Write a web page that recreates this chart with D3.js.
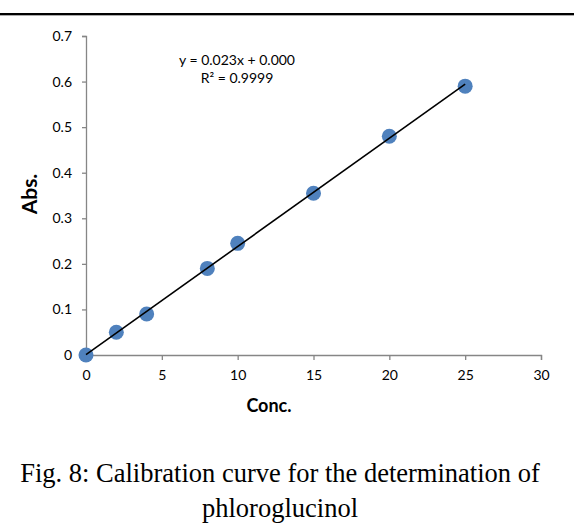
<!DOCTYPE html>
<html><head><meta charset="utf-8">
<script src="https://cdn.jsdelivr.net/npm/d3@7"></script>
<style>body{margin:0;background:#fff}svg{display:block}</style>
</head><body>
<script>
const concValues = [0, 2, 4, 8, 10, 15, 20, 25];
const absValues = [0, 0.05, 0.09, 0.19, 0.245, 0.355, 0.48, 0.59];
const xTicks = [0, 5, 10, 15, 20, 25, 30];
const yTicks = [0, 0.1, 0.2, 0.3, 0.4, 0.5, 0.6, 0.7];
const equationLines = ["y = 0.023x + 0.000", "R² = 0.9999"];
const captionLines = ["Fig. 8: Calibration curve for the determination of", "phloroglucinol"];

const W = 574, H = 531;
const svg = d3.select("body").append("svg").attr("width", W).attr("height", H);

// top rule
svg.append("rect").attr("x",0).attr("y",13).attr("width",W).attr("height",2).attr("fill","#000");
svg.append("rect").attr("x",0).attr("y",15).attr("width",W).attr("height",1).attr("fill","#aaa");

const x = d3.scaleLinear().domain([0,30]).range([86,541]);
const y = d3.scaleLinear().domain([0,0.7]).range([355,36]);
const axisColor = "#868686";
const tickFont = "Lato, 'Open Sans', sans-serif";

const gx = svg.append("g").attr("transform","translate(0,355)")
  .call(d3.axisBottom(x).tickValues(xTicks).tickFormat(d3.format("d")).tickSizeInner(5).tickSizeOuter(5).tickPadding(10));
const gy = svg.append("g").attr("transform","translate(86,0)")
  .call(d3.axisLeft(y).tickValues(yTicks).tickFormat(d => d===0 ? "0" : d3.format(".1f")(d)).tickSizeInner(4).tickSizeOuter(4).tickPadding(10));
[gx, gy].forEach(g => {
  g.selectAll("path,line").attr("stroke", axisColor).attr("stroke-width", 1.3);
  g.selectAll("text").attr("fill","#000").style("font-family", tickFont).style("font-size","14px");
});

// regression
const mx = d3.mean(concValues), my = d3.mean(absValues);
const sxy = d3.sum(concValues.map((v,i)=>(v-mx)*(absValues[i]-my)));
const sxx = d3.sum(concValues.map(v=>(v-mx)*(v-mx)));
const slope = sxy/sxx, intercept = my - slope*mx;

const pts = concValues.map((c,i)=>({c, a:absValues[i]}));
svg.append("g").selectAll("circle").data(pts).join("circle")
  .attr("cx", d=>x(d.c)).attr("cy", d=>y(d.a)).attr("r", 7.5).attr("fill","#4F81BD");

const x0 = d3.min(concValues), x1 = d3.max(concValues);
svg.append("line")
  .attr("x1", x(x0)).attr("y1", y(slope*x0+intercept))
  .attr("x2", x(x1)).attr("y2", y(slope*x1+intercept))
  .attr("stroke","#000").attr("stroke-width",1.6);

svg.append("g").selectAll("text").data(equationLines).join("text")
  .attr("x", 237).attr("y", (d,i)=>65 + i*18).attr("text-anchor","middle")
  .style("font-family", tickFont).style("font-size","14px").text(d=>d);

svg.append("text").attr("x", 269).attr("y", 412).attr("text-anchor","middle")
  .style("font-family", tickFont).style("font-weight","bold").style("font-size","18px").text("Conc.");
svg.append("text").attr("transform","translate(37,194) rotate(-90)").attr("text-anchor","middle")
  .style("font-family", tickFont).style("font-weight","bold").style("font-size","21px").text("Abs.");

svg.append("g").selectAll("text").data(captionLines).join("text")
  .attr("x", 280).attr("y", (d,i)=>482 + i*35).attr("text-anchor","middle")
  .style("font-family","'Liberation Serif', 'Times New Roman', serif").style("font-size","26.5px").text(d=>d);
</script>
</body></html>
